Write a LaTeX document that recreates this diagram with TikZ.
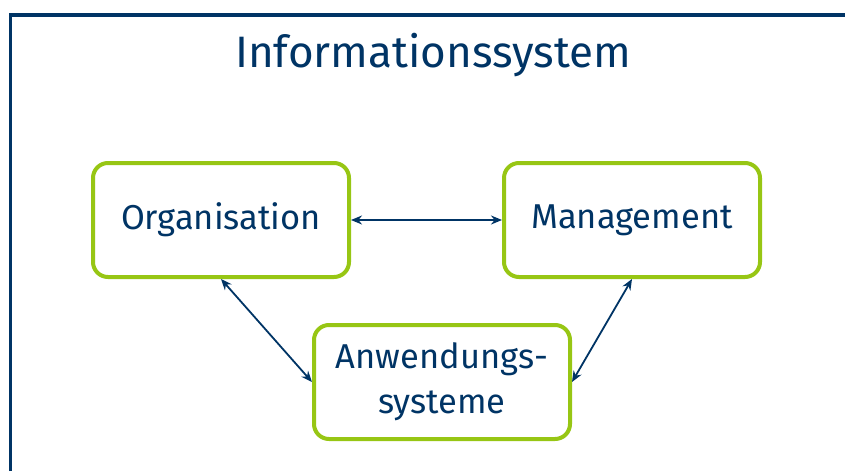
\documentclass[tikz,border=0pt]{standalone}
\usepackage{fontspec}
\setmainfont{Fira Sans}
\usetikzlibrary{arrows.meta}
\definecolor{navyd}{RGB}{0,52,101}
\definecolor{limed}{RGB}{151,198,20}
\tikzset{
    sysbox/.style = {draw = limed, line width = 4pt, rounded corners = 15pt, fill = white,
        minimum width = 256pt, minimum height = 114pt, align = center, text = navyd,
        font = \fontsize{34.5}{45}\selectfont},
    link/.style = {navyd, line width = 1.8pt, {Stealth[length=11pt,width=9pt]}-{Stealth[length=11pt,width=9pt]}}
}

\begin{document}
\begin{tikzpicture}[x=1pt, y=-1pt]
            \useasboundingbox (0,0) rectangle (845,471);
            \draw[navyd, line width = 3.5pt] (10.5,471) -- (10.5,15) -- (845,15);
            \node[anchor = base, text = navyd, font = \fontsize{44}{50}\selectfont] (title) at (433,67) {Informationssystem};
            \node[sysbox] (org) at (221,220) {Organisation};
            \node[sysbox] (man) at (632,220) {Management};
            \node[sysbox] (anw) at (442,382) {Anwendungs-\\systeme};
            \draw[link] (org.east) -- (man.west);
            \draw[link] (org.south) -- (anw.west);
            \draw[link] (anw.east) -- (man.south);
        \end{tikzpicture}
\end{document}
